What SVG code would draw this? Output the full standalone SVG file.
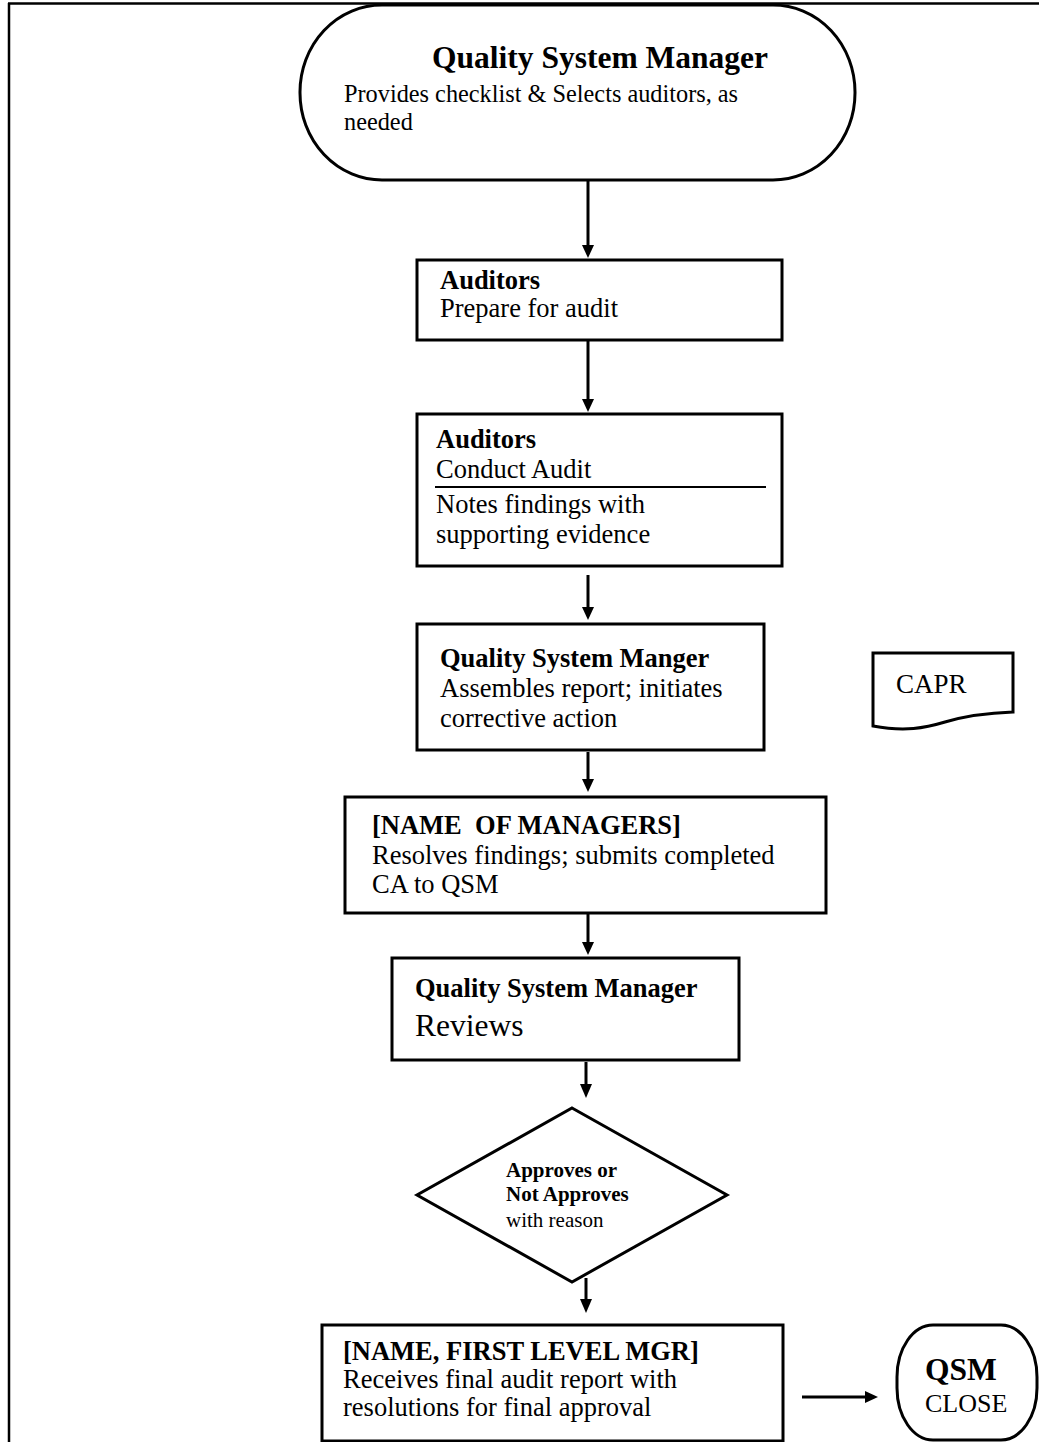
<svg xmlns="http://www.w3.org/2000/svg" width="1039" height="1442" viewBox="0 0 1039 1442">
<style>
.sh{fill:#fff;stroke:#000;stroke-width:3}
.t{font-family:"Liberation Serif","Times New Roman",serif;fill:#000}
.b{font-weight:bold}
.s26{font-size:26.5px}
.cn{stroke:#000;stroke-width:3;fill:none}
</style>
<rect width="1039" height="1442" fill="#fff"/>
<g id="frame">
<line x1="8" y1="3.5" x2="1039" y2="3.5" stroke="#000" stroke-width="2.5"/>
<line x1="9" y1="3" x2="9" y2="1442" stroke="#000" stroke-width="2.5"/>
</g>
<g id="connectors">
<line class="cn" x1="588" y1="181" x2="588" y2="246"/>
<path d="M582,245 L594,245 L588,258 Z"/>
<line class="cn" x1="588" y1="341" x2="588" y2="400"/>
<path d="M582,399 L594,399 L588,412 Z"/>
<line class="cn" x1="588" y1="575" x2="588" y2="608"/>
<path d="M582,607 L594,607 L588,620 Z"/>
<line class="cn" x1="588" y1="752" x2="588" y2="780"/>
<path d="M582,779 L594,779 L588,792 Z"/>
<line class="cn" x1="588" y1="914" x2="588" y2="943"/>
<path d="M582,942 L594,942 L588,955 Z"/>
<line class="cn" x1="586" y1="1062" x2="586" y2="1085"/>
<path d="M580,1084 L592,1084 L586,1098 Z"/>
<line class="cn" x1="586" y1="1278" x2="586" y2="1300"/>
<path d="M580,1299 L592,1299 L586,1313 Z"/>
<line class="cn" x1="802" y1="1397" x2="866" y2="1397"/>
<path d="M865,1391 L865,1403 L878,1397 Z"/>
</g>
<g id="n-start">
<rect class="sh" x="300" y="5" width="555" height="175" rx="82" ry="87"/>
<text class="t b" x="432" y="68" font-size="31.5">Quality System Manager</text>
<text class="t" x="344" y="102" font-size="24.3">Provides checklist &amp; Selects auditors, as</text>
<text class="t" x="344" y="130" font-size="24.3">needed</text>
</g>
<g id="n-prepare">
<rect class="sh" x="417" y="260" width="365" height="80"/>
<text class="t b s26" x="440" y="289">Auditors</text>
<text class="t s26" x="440" y="317">Prepare for audit</text>
</g>
<g id="n-conduct">
<rect class="sh" x="417" y="414" width="365" height="152"/>
<text class="t b s26" x="436" y="448">Auditors</text>
<text class="t s26" x="436" y="478">Conduct Audit</text>
<line x1="435" y1="487" x2="766" y2="487" stroke="#000" stroke-width="2"/>
<text class="t s26" x="436" y="513">Notes findings with</text>
<text class="t s26" x="436" y="543">supporting evidence</text>
</g>
<g id="n-assemble">
<rect class="sh" x="417" y="624" width="347" height="126"/>
<text class="t b s26" x="440" y="667">Quality System Manger</text>
<text class="t s26" x="440" y="697">Assembles report; initiates</text>
<text class="t s26" x="440" y="727">corrective action</text>
</g>
<g id="n-capr">
<path class="sh" d="M873,653 L1013,653 L1013,712 C985,713 965,716 945,722 C925,728 905,732 873,726 Z"/>
<text class="t" x="896" y="693" font-size="27">CAPR</text>
</g>
<g id="n-resolve">
<rect class="sh" x="345" y="797" width="481" height="116"/>
<text class="t b s26" x="372" y="834" xml:space="preserve">[NAME  OF MANAGERS]</text>
<text class="t s26" x="372" y="864">Resolves findings; submits completed</text>
<text class="t s26" x="372" y="893">CA to QSM</text>
</g>
<g id="n-review">
<rect class="sh" x="392" y="958" width="347" height="102"/>
<text class="t b s26" x="415" y="997">Quality System Manager</text>
<text class="t" x="415" y="1036" font-size="31.5">Reviews</text>
</g>
<g id="n-decision">
<polygon class="sh" points="572,1108 727,1195 572,1282 417,1195"/>
<text class="t b" x="506" y="1177" font-size="21">Approves or</text>
<text class="t b" x="506" y="1201" font-size="21">Not Approves</text>
<text class="t" x="506" y="1227" font-size="21">with reason</text>
</g>
<g id="n-final">
<rect class="sh" x="322" y="1325" width="461" height="116"/>
<text class="t b s26" x="343" y="1360">[NAME, FIRST LEVEL MGR]</text>
<text class="t s26" x="343" y="1388">Receives final audit report with</text>
<text class="t s26" x="343" y="1416">resolutions for final approval</text>
</g>
<g id="n-close">
<rect class="sh" x="897" y="1325" width="140" height="115" rx="36" ry="52"/>
<text class="t b" x="925" y="1380" font-size="31.5">QSM</text>
<text class="t" x="925" y="1412" font-size="26">CLOSE</text>
</g>
</svg>
